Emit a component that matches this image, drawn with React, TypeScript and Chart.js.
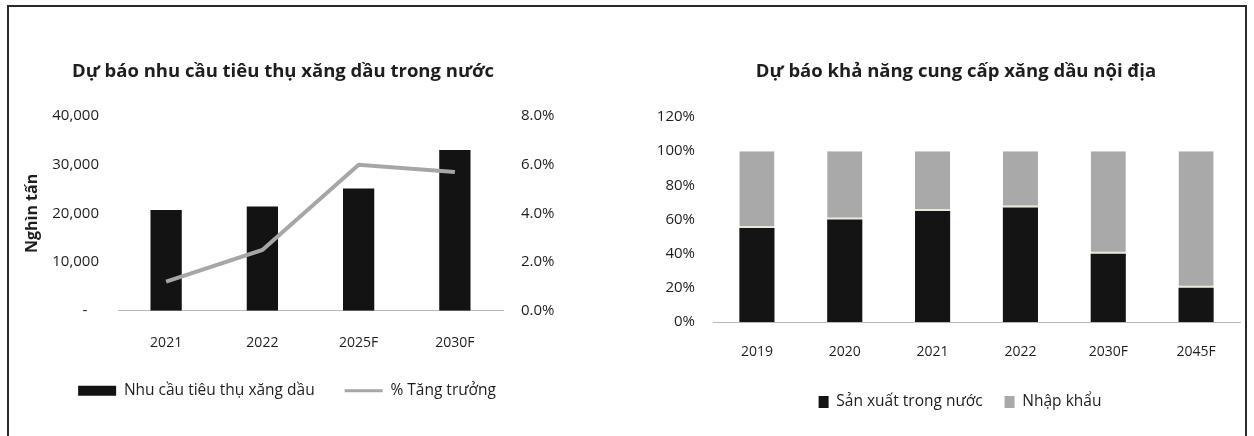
import React, { useEffect, useRef } from "react";
import { Chart, registerables } from "chart.js";

Chart.register(...registerables);

// ---- Data: left chart (domestic fuel demand forecast) ----
const demandTitle = "Dự báo nhu cầu tiêu thụ xăng dầu trong nước";
const demandYears = ["2021", "2022", "2025F", "2030F"];
const demandValues = [20700, 21400, 25100, 33000]; // Nghìn tấn
const growthValues = [1.2, 2.5, 6.0, 5.7]; // %
const demandSeriesLabel = "Nhu cầu tiêu thụ xăng dầu";
const growthSeriesLabel = "% Tăng trưởng";
const demandAxisTitle = "Nghìn tấn";
const demandAxisMax = 40000;
const demandAxisStep = 10000;
const growthAxisMax = 8;
const growthAxisStep = 2;

// ---- Data: right chart (domestic supply capacity forecast) ----
const supplyTitle = "Dự báo khả năng cung cấp xăng dầu nội địa";
const supplyYears = ["2019", "2020", "2021", "2022", "2030F", "2045F"];
const domesticShare = [55, 60, 65, 67, 40, 20]; // %
const importShare = [45, 40, 35, 33, 60, 80]; // %
const domesticLabel = "Sản xuất trong nước";
const importLabel = "Nhập khẩu";
const supplyAxisMax = 120;
const supplyAxisStep = 20;

const FONT = "'Open Sans', 'Noto Sans', sans-serif";
const TEXT = "#1e1e1e";
const LINE_GREY = "#a6a6a6";

// Small plugin: nudges the title / legend boxes horizontally after layout
const boxShift = {
  id: "boxShift",
  afterLayout(chart: any, _args: any, opts: any) {
    const t = chart.titleBlock;
    if (t && opts && opts.titleDx) {
      t.left += opts.titleDx;
      t.right += opts.titleDx;
    }
    const l = chart.legend;
    if (l && opts && opts.legendDx) {
      l.left += opts.legendDx;
      l.right += opts.legendDx;
    }
  },
};

function LeftChart() {
  const ref = useRef<HTMLCanvasElement | null>(null);
  useEffect(() => {
    if (!ref.current) return;
    const chart = new Chart(ref.current, {
      type: "bar",
      plugins: [boxShift as any],
      data: {
        labels: demandYears,
        datasets: [
          {
            type: "bar",
            label: demandSeriesLabel,
            data: demandValues,
            backgroundColor: "#131313",
            yAxisID: "y",
            barPercentage: 0.325,
            categoryPercentage: 1,
            order: 2,
          } as any,
          {
            type: "line",
            label: growthSeriesLabel,
            data: growthValues,
            borderColor: LINE_GREY,
            backgroundColor: LINE_GREY,
            borderWidth: 4,
            pointRadius: 0,
            tension: 0,
            yAxisID: "y1",
            order: 1,
          } as any,
        ],
      },
      options: {
        animation: false,
        responsive: false,
        maintainAspectRatio: false,
        layout: { padding: { top: 0, left: 19, right: 0, bottom: 27.5 } },
        plugins: {
          tooltip: { enabled: false },
          boxShift: { titleDx: -10.5, legendDx: -6.5 },
          title: {
            display: true,
            text: demandTitle,
            color: TEXT,
            font: { family: FONT, size: 18.5, weight: "bold" },
            padding: { top: 60.7, bottom: 33.1 },
          },
          legend: {
            position: "bottom",
            labels: {
              usePointStyle: true,
              pointStyleWidth: 38,
              boxHeight: 10,
              padding: 30,
              color: TEXT,
              font: { family: FONT, size: 15.5 },
              sort: (a: any, b: any) => a.datasetIndex - b.datasetIndex,
              generateLabels: (c: any) => {
                const items = (Chart.defaults.plugins.legend.labels as any).generateLabels(c);
                items.forEach((it: any) => {
                  if (it.datasetIndex === 0) {
                    it.pointStyle = "rect";
                    it.lineWidth = 0;
                  } else {
                    it.pointStyle = "line";
                    it.lineWidth = 3;
                    it.strokeStyle = LINE_GREY;
                  }
                });
                return items;
              },
            },
          },
        } as any,
        scales: {
          x: {
            grid: { display: false, drawTicks: false },
            border: { display: true, color: "#b8b8b8", width: 1 },
            ticks: { padding: 23.6, color: TEXT, font: { family: FONT, size: 14 } },
            afterFit: (s: any) => {
              s.height = 42.2;
            },
          },
          y: {
            position: "left",
            min: 0,
            max: demandAxisMax,
            grid: { display: false, drawTicks: false },
            border: { display: false },
            ticks: {
              stepSize: demandAxisStep,
              padding: 19,
              color: TEXT,
              font: { family: FONT, size: 15 },
              callback: (v: any) => (v === 0 ? "-   " : Number(v).toLocaleString("en-US")),
            },
            title: {
              display: true,
              text: demandAxisTitle,
              color: TEXT,
              font: { family: FONT, size: 16, weight: "bold" },
              padding: { top: 4, bottom: 4 },
            },
            afterFit: (s: any) => {
              s.width = 99;
            },
          },
          y1: {
            position: "right",
            min: 0,
            max: growthAxisMax,
            grid: { display: false, drawTicks: false },
            border: { display: false },
            ticks: {
              stepSize: growthAxisStep,
              padding: 18,
              color: TEXT,
              font: { family: FONT, size: 15 },
              callback: (v: any) => Number(v).toFixed(1) + "%",
            },
            afterFit: (s: any) => {
              s.width = 65;
            },
          },
        },
      } as any,
    });
    return () => chart.destroy();
  }, []);
  return (
    <canvas
      ref={ref}
      width={568}
      height={436}
      style={{ position: "absolute", left: 0, top: 0, width: 568, height: 436 }}
    />
  );
}

function RightChart() {
  const ref = useRef<HTMLCanvasElement | null>(null);
  useEffect(() => {
    if (!ref.current) return;
    const chart = new Chart(ref.current, {
      type: "bar",
      plugins: [boxShift as any],
      data: {
        labels: supplyYears,
        datasets: [
          {
            label: domesticLabel,
            data: domesticShare,
            backgroundColor: "#141414",
            barPercentage: 0.4,
            categoryPercentage: 1,
          },
          {
            label: importLabel,
            data: importShare,
            backgroundColor: "#a9a9a9",
            borderColor: "#ebe7d6",
            borderWidth: { top: 0, left: 0, right: 0, bottom: 2 },
            borderSkipped: false,
            barPercentage: 0.4,
            categoryPercentage: 1,
          } as any,
        ],
      },
      options: {
        animation: false,
        responsive: false,
        maintainAspectRatio: false,
        layout: { padding: { top: 0, left: 0, right: 26, bottom: 16.2 } },
        plugins: {
          tooltip: { enabled: false },
          boxShift: { titleDx: 11, legendDx: 15 },
          title: {
            display: true,
            text: supplyTitle,
            color: TEXT,
            font: { family: FONT, size: 18.5, weight: "bold" },
            padding: { top: 60.7, bottom: 34.1 },
          },
          legend: {
            position: "bottom",
            labels: {
              boxWidth: 10,
              boxHeight: 12,
              padding: 22,
              color: TEXT,
              font: { family: FONT, size: 15.5 },
              generateLabels: (c: any) => {
                const items = (Chart.defaults.plugins.legend.labels as any).generateLabels(c);
                items.forEach((it: any) => {
                  it.lineWidth = 0;
                });
                return items;
              },
            },
          },
        } as any,
        scales: {
          x: {
            stacked: true,
            grid: { display: false, drawTicks: false },
            border: { display: true, color: "#b8b8b8", width: 1 },
            ticks: { padding: 22.1, color: TEXT, font: { family: FONT, size: 14 } },
            afterFit: (s: any) => {
              s.height = 50.3;
            },
          },
          y: {
            stacked: true,
            min: 0,
            max: supplyAxisMax,
            grid: { display: false, drawTicks: false },
            border: { display: false },
            ticks: {
              stepSize: supplyAxisStep,
              padding: 18,
              color: TEXT,
              font: { family: FONT, size: 15 },
              callback: (v: any) => v + "%",
            },
            afterFit: (s: any) => {
              s.width = 63;
            },
          },
        },
      } as any,
    });
    return () => chart.destroy();
  }, []);
  return (
    <canvas
      ref={ref}
      width={616}
      height={436}
      style={{ position: "absolute", left: 650, top: 0, width: 616, height: 436 }}
    />
  );
}

export default function App() {
  return (
    <div
      style={{
        position: "fixed",
        left: 0,
        top: 0,
        width: 1254,
        height: 436,
        overflow: "hidden",
        background: "#ffffff",
      }}
    >
      <div
        style={{
          position: "absolute",
          left: 7,
          top: 5,
          width: 1240,
          height: 460,
          border: "2px solid #2a2a2a",
          boxSizing: "border-box",
        }}
      />
      <LeftChart />
      <RightChart />
    </div>
  );
}
